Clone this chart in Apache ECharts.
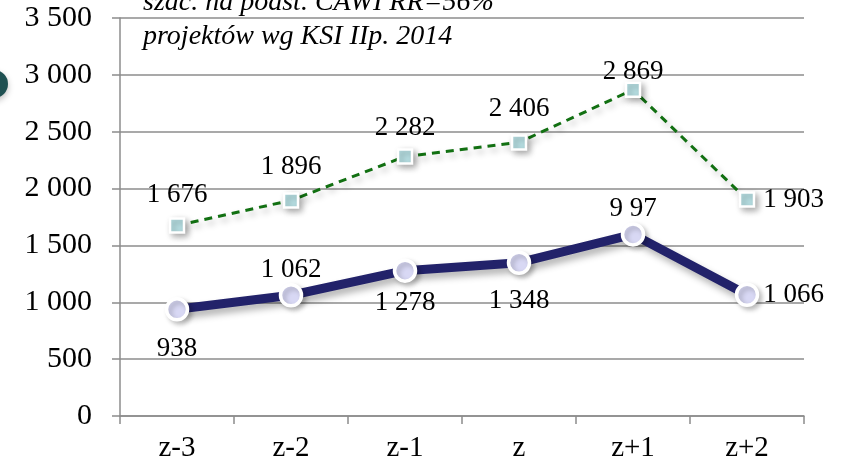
<!DOCTYPE html>
<html>
<head>
<meta charset="utf-8">
<script src="https://cdn.jsdelivr.net/npm/echarts@6/dist/echarts.min.js"></script>
<style>
  html, body { margin: 0; padding: 0; background: #ffffff; }
  #chart { width: 843px; height: 469px; }
</style>
</head>
<body>
<div id="chart"></div>
<script>
// Categories (years relative to z)
const categories = ['z-3', 'z-2', 'z-1', 'z', 'z+1', 'z+2'];

// Estimate based on CAWI survey
const estimateValues = [1676, 1896, 2282, 2406, 2869, 1903];

// Projects per KSI
const projectValues = [938, 1062, 1278, 1348, 1597, 1066];
const projectLabels = ['938', '1 062', '1 278', '1 348', '9 97', '1 066'];

// Y axis ticks
const yMin = 0, yMax = 3500, yStep = 500;

const noteLines = ['szac. na podst. CAWI RR=56%', 'projektów wg KSI IIp. 2014'];

const serif = '"Liberation Serif", "Times New Roman", serif';

function fmt(v) {
  return String(v).replace(/\B(?=(\d{3})+(?!\d))/g, ' ');
}

// label placement per point
const estimatePositions = ['top', 'top', 'top', 'top', 'top', 'right'];
const estimateDistances = [9, 12, 7, 12, -4, 8];
const projectPositions = ['bottom', 'top', 'bottom', 'bottom', 'top', 'right'];
const projectDistances = [14, 0, 6, 12, 0, 4];

const chart = echarts.init(document.getElementById('chart'), null, { renderer: 'canvas' });

chart.setOption({
  animation: false,
  backgroundColor: '#ffffff',
  grid: { left: 120, right: 39, top: 18, bottom: 53, containLabel: false },
  xAxis: {
    type: 'category',
    data: categories,
    boundaryGap: true,
    axisLine: { lineStyle: { color: '#8c8c8c', width: 1.5 } },
    axisTick: { show: true, length: 8, lineStyle: { color: '#8c8c8c', width: 1.5 } },
    axisLabel: { color: '#000', fontFamily: serif, fontSize: 29, margin: 18 },
    splitLine: { show: false }
  },
  yAxis: {
    type: 'value',
    min: yMin, max: yMax, interval: yStep,
    axisLine: { show: true, lineStyle: { color: '#8c8c8c', width: 1.5 } },
    axisTick: { show: true, length: 8, lineStyle: { color: '#8c8c8c', width: 1.5 } },
    axisLabel: { color: '#000', fontFamily: serif, fontSize: 30, margin: 28, formatter: v => fmt(v) },
    splitLine: { show: true, lineStyle: { color: '#8c8c8c', width: 1.5 } }
  },
  series: [
    {
      name: 'estimate',
      type: 'line',
      data: estimateValues.map((v, i) => ({
        value: v,
        label: { position: estimatePositions[i], distance: estimateDistances[i] }
      })),
      symbol: 'rect',
      symbolSize: 14,
      lineStyle: {
        color: '#127012', width: 3, type: [8, 6],
        shadowColor: 'rgba(0,0,0,0.25)', shadowBlur: 6, shadowOffsetX: 3, shadowOffsetY: 4
      },
      itemStyle: {
        color: '#b8e0e4', borderColor: '#ffffff', borderWidth: 2.5,
        shadowColor: 'rgba(0,0,0,0.3)', shadowBlur: 6, shadowOffsetX: 3, shadowOffsetY: 3
      },
      label: {
        show: true, color: '#000', fontFamily: serif, fontSize: 27,
        formatter: p => fmt(p.value)
      },
      z: 3
    },
    {
      name: 'projects',
      type: 'line',
      data: projectValues.map((v, i) => ({
        value: v,
        label: { position: projectPositions[i], distance: projectDistances[i] }
      })),
      symbol: 'circle',
      symbolSize: 21,
      lineStyle: {
        color: '#22226a', width: 9,
        shadowColor: 'rgba(0,0,0,0.3)', shadowBlur: 7, shadowOffsetX: 3, shadowOffsetY: 5
      },
      itemStyle: {
        color: '#d8d8f4', borderColor: '#ffffff', borderWidth: 3.5,
        shadowColor: 'rgba(0,0,0,0.22)', shadowBlur: 5, shadowOffsetX: 3, shadowOffsetY: 3
      },
      label: {
        show: true, color: '#000', fontFamily: serif, fontSize: 27,
        formatter: p => projectLabels[p.dataIndex]
      },
      z: 4
    }
  ],
  graphic: [
    {
      type: 'circle', left: -20, top: 70,
      shape: { r: 14 },
      style: { fill: '#1f5152', shadowColor: 'rgba(0,0,0,0.25)', shadowBlur: 6, shadowOffsetY: 3 },
      z: 10
    },
    {
      type: 'text', left: 143, top: -11,
      style: { text: noteLines[0], font: 'italic 28px ' + serif, fill: '#000' },
      z: 10
    },
    {
      type: 'text', left: 143, top: 23,
      style: { text: noteLines[1], font: 'italic 28px ' + serif, fill: '#000' },
      z: 10
    }
  ]
});
</script>
</body>
</html>
